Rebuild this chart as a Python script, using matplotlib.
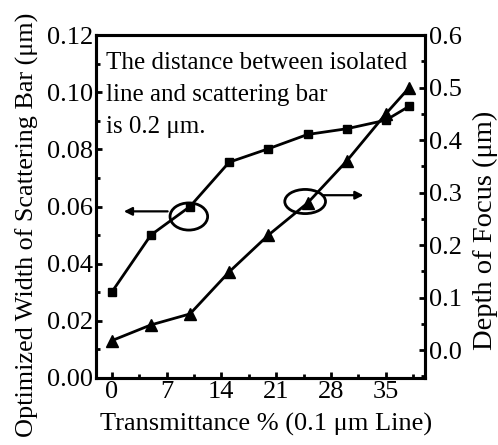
import matplotlib.pyplot as plt
from matplotlib.patches import Ellipse
from matplotlib.ticker import MultipleLocator

plt.rcParams['font.family'] = ['Liberation Serif', 'DejaVu Serif']

# transmittance (%)
trans = [0, 5, 10, 15, 20, 25, 30, 35, 38]
# optimized scattering bar width (um), left axis
width = [0.030, 0.050, 0.060, 0.0755, 0.0802, 0.0852, 0.0872, 0.0902, 0.0951]
# depth of focus (um), right axis
dof = [0.018, 0.048, 0.069, 0.149, 0.219, 0.280, 0.360, 0.450, 0.500]

xticks = [0, 7, 14, 21, 28, 35]

fig = plt.figure(figsize=(4.98, 4.45), dpi=100)
ax = fig.add_axes([0.1928, 0.1506, 0.6606, 0.7707])
ax2 = ax.twinx()

ax.plot(trans, width, color='black', lw=2.0, marker='s', ms=5.5)
ax2.plot(trans, dof, color='black', lw=2.0, marker='^', ms=8.5)

ax.set_xlim(-2, 40)
ax.set_ylim(0, 0.12)
ax2.set_ylim(-0.053, 0.6)

ax.set_xticks(xticks)
ax.xaxis.set_minor_locator(MultipleLocator(3.5))
ax.yaxis.set_major_locator(MultipleLocator(0.02))
ax.yaxis.set_minor_locator(MultipleLocator(0.01))
ax.yaxis.set_major_formatter(plt.FormatStrFormatter('%.2f'))
ax2.set_yticks([0.0, 0.1, 0.2, 0.3, 0.4, 0.5, 0.6])
ax2.yaxis.set_minor_locator(MultipleLocator(0.05))
ax2.yaxis.set_major_formatter(plt.FormatStrFormatter('%.1f'))

for a in (ax, ax2):
    for s in a.spines.values():
        s.set_linewidth(2.2)
    a.tick_params(which='both', direction='in', width=2, labelsize=19, pad=3)
    a.tick_params(which='major', length=4)
    a.tick_params(which='minor', length=3)
ax.tick_params(axis='x', which='both', top=False, pad=2)
ax.tick_params(axis='y', which='both', right=False, pad=2)

ax.set_xlabel('Transmittance % (0.1 \u03bcm Line)', fontsize=19, labelpad=7)
ax.xaxis.label.set_x(0.517)
ax.set_ylabel('Optimized Width of Scattering Bar (\u03bcm)', fontsize=18.8, labelpad=6)
ax.yaxis.label.set_y(0.446)
ax2.set_ylabel('Depth of Focus (\u03bcm)', fontsize=20.5, labelpad=8)
ax2.yaxis.label.set_y(0.431)

ax.text(-0.75, 0.1142, 'The distance between isolated\nline and scattering bar\nis 0.2 \u03bcm.',
        fontsize=18, va='top', ha='left', linespacing=1.6)

# left ellipse + arrow (width curve -> left axis)
ax.add_patch(Ellipse((9.85, 0.0565), 4.8, 0.0095, fill=False, lw=2, color='black'))
ax.annotate('', xy=(1.2, 0.0583), xytext=(7.5, 0.0583),
            arrowprops=dict(arrowstyle='-|>', color='black', lw=1.6, mutation_scale=12))

# right ellipse + arrow (DOF curve -> right axis)
ax2.add_patch(Ellipse((24.7, 0.283), 5.2, 0.046, fill=False, lw=2, color='black'))
ax2.annotate('', xy=(32.5, 0.295), xytext=(26.5, 0.295),
             arrowprops=dict(arrowstyle='-|>', color='black', lw=1.6, mutation_scale=12))

fig.savefig('out.png', dpi=100)
